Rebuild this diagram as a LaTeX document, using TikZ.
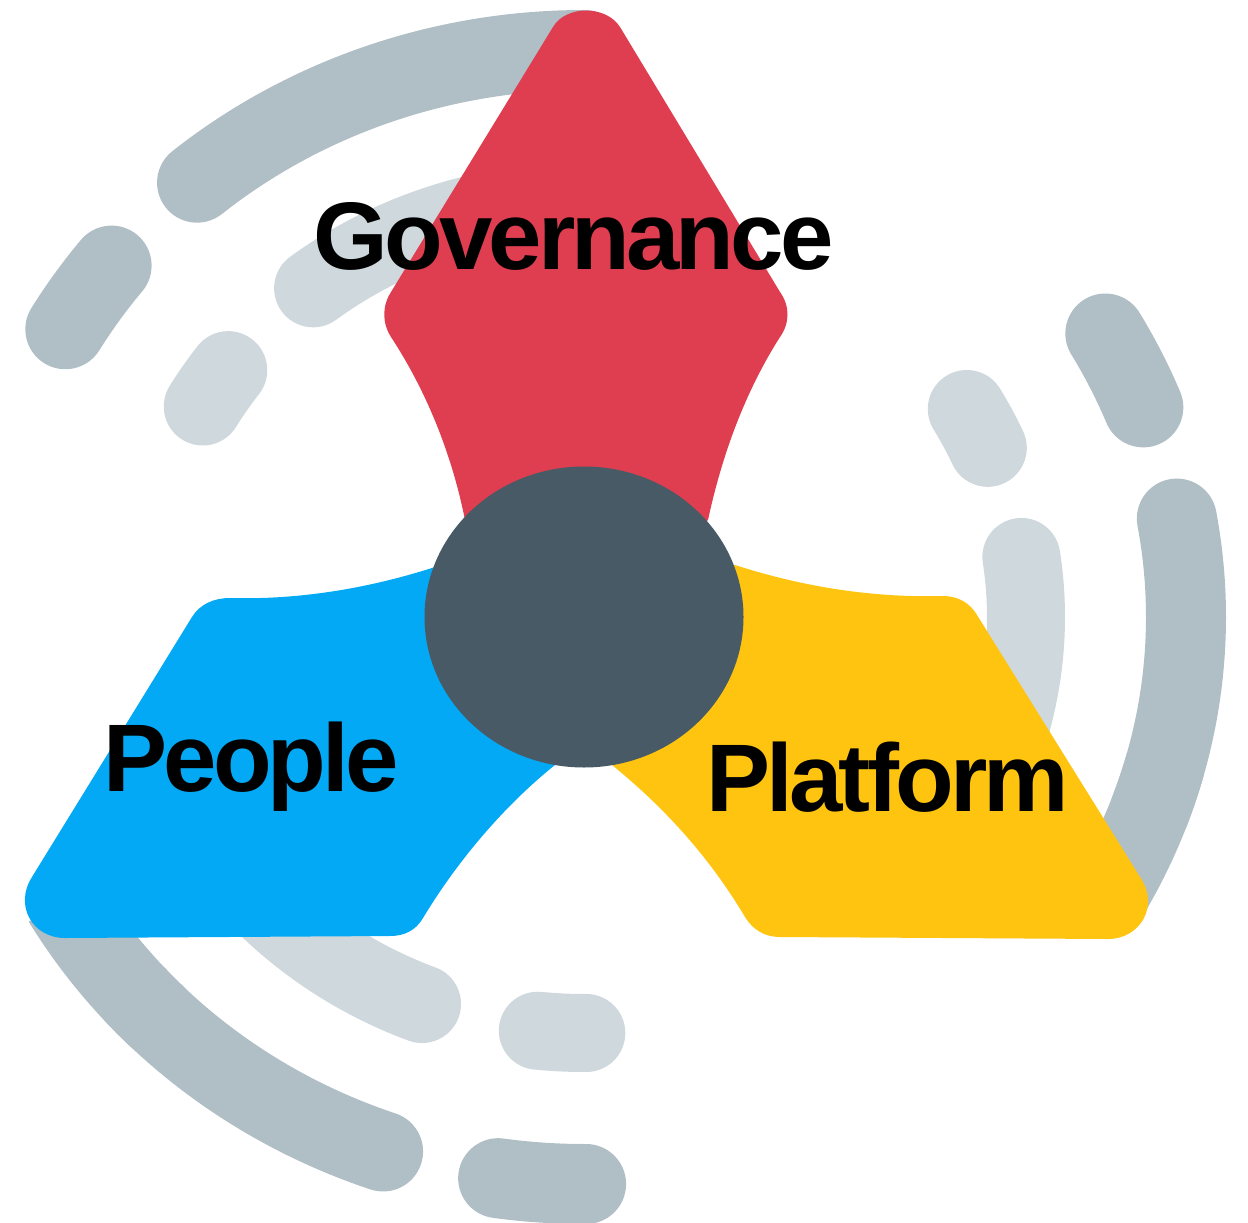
\documentclass[tikz,border=0pt]{standalone}
\usepackage{fontspec}
\setmainfont{Liberation Sans}
\newfontfamily\labelfont[LetterSpace=-4.0]{Liberation Sans}
\definecolor{ringouter}{HTML}{B0BEC5}
\definecolor{ringinner}{HTML}{CFD8DC}
\definecolor{govred}{HTML}{DF3D50}
\definecolor{peopleblue}{HTML}{03A9F4}
\definecolor{platyellow}{HTML}{FEC40F}
\definecolor{hubdark}{HTML}{485A65}
\tikzset{
  outerring/.style={draw=ringouter,line width=60pt,line cap=round},
  outerbutt/.style={draw=ringouter,line width=60pt,line cap=butt},
  innerring/.style={draw=ringinner,line width=58.5pt,line cap=round},
  label/.style={font=\labelfont\bfseries\fontsize{72}{72}\selectfont,inner sep=0pt,anchor=base west,text=black}
}
\newcommand{\outerseg}[2]{\draw[outerring] plot[domain=#1:#2,samples=40,smooth] ({584+602*cos(\x)},{617-567*sin(\x)});}
\newcommand{\outerhidden}[2]{\draw[outerbutt] plot[domain=#1:#2,samples=20,smooth] ({584+602*cos(\x)},{617-567*sin(\x)});}
\newcommand{\innerseg}[2]{\draw[innerring] plot[domain=#1:#2,samples=40,smooth] ({584+442*cos(\x)},{617-416*sin(\x)});}
\begin{document}
\begin{tikzpicture}[x=0.75pt,y=-0.75pt]
\useasboundingbox (0,0) rectangle (1248,1223);
% outer ring
\outerseg{90}{130}
\outerseg{141.7}{149.5}
\outerseg{222}{250.5}
\outerhidden{210}{225}
\outerseg{261.8}{270.2}
\outerseg{-20}{10}
\outerhidden{-29}{-15}
\outerseg{21.7}{30}
% inner ring
\innerseg{105}{127.8}
\innerseg{143.6}{149.6}
\innerseg{222}{248.5}
\innerseg{264}{270.3}
\innerseg{-20}{8.3}
\innerseg{24}{30}
% petals
\fill[govred] (553,27) .. controls (566,5) and (606,5) .. (620,27)
  -- (780,292) .. controls (790,306) and (790,323) .. (780,337)
  .. controls (745,392) and (722,455) .. (708,520) -- (584,620) -- (465,520)
  .. controls (452,455) and (427,392) .. (391,337)
  .. controls (382,323) and (382,306) .. (391,292) -- cycle;
\fill[peopleblue] (435,567) .. controls (370,588) and (300,600) .. (230,598)
  .. controls (214,598) and (200,604) .. (192,617)
  -- (32,877) .. controls (14,905) and (32,938) .. (65,938)
  -- (390,936) .. controls (405,936) and (416,930) .. (423,918)
  .. controls (458,860) and (505,805) .. (555,765) -- (584,620) -- cycle;
\fill[platyellow] (735,565) .. controls (800,586) and (870,598) .. (943,596)
  .. controls (958,596) and (970,603) .. (977,615)
  -- (1140,877) .. controls (1160,906) and (1140,939) .. (1108,939)
  -- (780,937) .. controls (765,937) and (753,930) .. (745,917)
  .. controls (710,858) and (665,808) .. (612,765) -- (584,620) -- cycle;
% hub
\fill[hubdark] (584,617) ellipse [x radius=159.5,y radius=150.5];
% labels
\node[label] (governance) at (313,269) {Governance};
\node[label] (people) at (103,791) {People};
\node[label] (platform) at (706,811) {Platform};
\end{tikzpicture}
\end{document}
